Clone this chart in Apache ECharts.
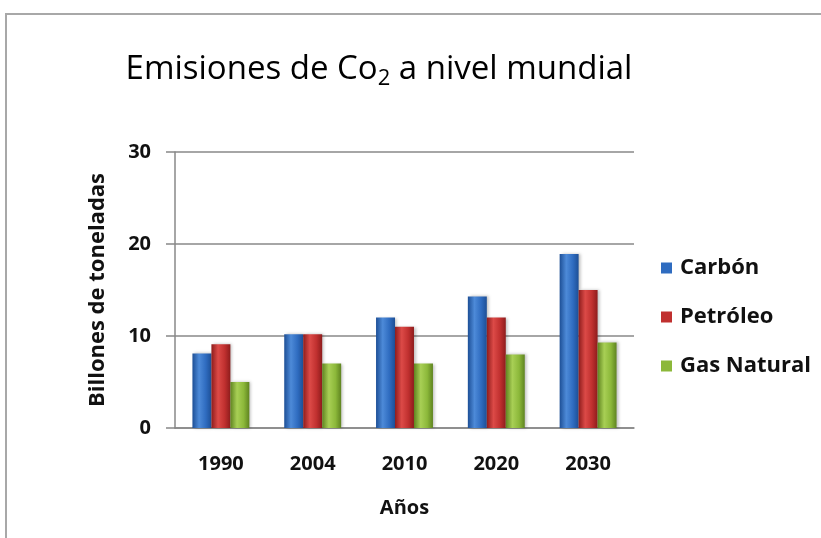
<!DOCTYPE html>
<html>
<head>
<meta charset="utf-8">
<script src="https://cdn.jsdelivr.net/npm/echarts@6/dist/echarts.min.js"></script>
<style>
html, body { margin: 0; padding: 0; background: #fff; }
#chart { width: 821px; height: 538px; }
</style>
</head>
<body>
<div id="chart"></div>
<script>
// datos
var anios = ['1990', '2004', '2010', '2020', '2030'];
var carbon = [8.1, 10.2, 12.0, 14.3, 18.9];
var petroleo = [9.1, 10.2, 11.0, 12.0, 15.0];
var gasNatural = [5.0, 7.0, 7.0, 8.0, 9.3];
var nombres = ['Carbón', 'Petróleo', 'Gas Natural'];

var fuente = '"Open Sans", Lato, sans-serif';

function cilindro(oscuro, medio, claro) {
	return new echarts.graphic.LinearGradient(0, 0, 1, 0, [
		{ offset: 0, color: oscuro },
		{ offset: 0.35, color: claro },
		{ offset: 0.7, color: medio },
		{ offset: 1, color: oscuro }
	]);
}

var colores = [
	cilindro('#1d4f96', '#2f6cc0', '#4d8ad8'),
	cilindro('#8e1c1c', '#c0302f', '#dc4a47'),
	cilindro('#5f8420', '#8cb83a', '#a8cf55')
];
var leyendaColores = ['#2f6cc0', '#c0302f', '#8cb83a'];

function serie(i, datos) {
	return {
		name: nombres[i],
		type: 'bar',
		data: datos,
		barGap: '0%',
		barCategoryGap: '38%',
		itemStyle: {
			color: colores[i],
			shadowColor: 'rgba(0,0,0,0.25)',
			shadowBlur: 3,
			shadowOffsetX: 2
		}
	};
}

var dom = document.getElementById('chart');
var myChart = echarts.init(dom);

var option = {
	animation: false,
	title: {
		text: 'Emisiones de Co{sub|2} a nivel mundial',
		left: 374,
		textAlign: 'center',
		top: 45,
		textStyle: {
			fontFamily: fuente,
			fontSize: 33,
			fontWeight: 500,
			color: '#000',
			rich: {
				sub: { fontSize: 22, fontWeight: 500, fontFamily: fuente, verticalAlign: 'bottom', padding: [18, 0, 0, 0] }
			}
		}
	},
	legend: {
		orient: 'vertical',
		left: 656,
		top: 252,
		itemGap: 27,
		itemWidth: 11,
		itemHeight: 11,
		icon: 'rect',
		textStyle: { fontFamily: fuente, fontSize: 22, fontWeight: 'bold', color: '#111', padding: [0, 0, 0, 3] },
		data: nombres.map(function (n, i) {
			return { name: n, itemStyle: { color: leyendaColores[i] } };
		})
	},
	grid: {
		left: 175,
		right: 187,
		top: 152,
		bottom: 110
	},
	xAxis: {
		type: 'category',
		data: anios,
		name: 'Años',
		nameLocation: 'middle',
		nameGap: 70,
		nameTextStyle: { fontFamily: fuente, fontSize: 20, fontWeight: 'bold', color: '#111' },
		axisLine: { lineStyle: { color: '#888', width: 1.5 } },
		axisTick: { show: false },
		axisLabel: { fontFamily: fuente, fontSize: 20, fontWeight: 'bold', color: '#111', margin: 26 }
	},
	yAxis: {
		type: 'value',
		min: 0,
		max: 30,
		interval: 10,
		name: 'Billones de toneladas',
		nameLocation: 'middle',
		nameGap: 66,
		nameTextStyle: { fontFamily: fuente, fontSize: 22, fontWeight: 'bold', color: '#111' },
		axisLine: { show: true, lineStyle: { color: '#888', width: 1.5 } },
		axisTick: { show: true, length: 9, lineStyle: { color: '#888', width: 1.5 } },
		axisLabel: { fontFamily: fuente, fontSize: 20, fontWeight: 'bold', color: '#111', margin: 24 },
		splitLine: { lineStyle: { color: '#888', width: 1.5 } }
	},
	graphic: [
		{
			type: 'polyline',
			shape: { points: [[6, 538], [6, 14], [821, 14]] },
			style: { stroke: '#a8a8a8', lineWidth: 2, fill: null }
		}
	],
	series: [
		serie(0, carbon),
		serie(1, petroleo),
		serie(2, gasNatural)
	]
};

myChart.setOption(option);
</script>
</body>
</html>
